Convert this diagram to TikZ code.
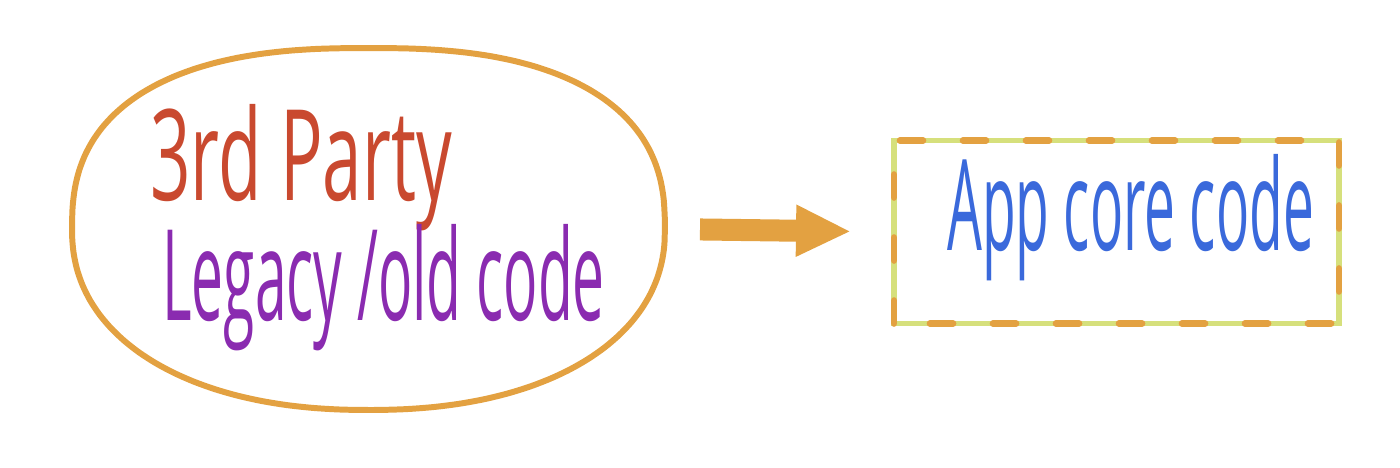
\documentclass[tikz,border=0pt]{standalone}
\usepackage{fontspec}
\setmainfont{Open Sans}
\usepackage{tikz}
\usetikzlibrary{positioning, arrows.meta}
\definecolor{marker}{HTML}{E3A141}
\definecolor{lime}{HTML}{D6E07C}
\definecolor{brick}{HTML}{C9492F}
\definecolor{plum}{HTML}{8A2BB0}
\definecolor{ink}{HTML}{3A69DB}
\tikzset{
    blobline/.style={draw=marker, line width=1.7pt},
    corebox/.style={draw=lime, line width=1.7pt, minimum width=4.45cm, minimum height=1.83cm, outer sep=0pt},
    coredash/.style={draw=marker, line width=1.9pt, dash pattern=on 0.23cm off 0.4cm, line cap=round},
    scrawl/.style={font=\fontsize{36}{40}\selectfont, inner sep=0pt, anchor=base west},
    fatarrow/.style={draw=marker, line width=0.22cm, -{Triangle[length=0.55cm, width=0.48cm]}},
}

\begin{document}
\begin{tikzpicture}[
    declare function={blobexp(\t)=(sin(\t)>0) ? -0.2 : -0.09;},
]
\useasboundingbox (0,0) rectangle (14,4.67);
% old code blob, a squarish egg
\draw[blobline, smooth] plot[domain=1:361, samples=73, variable=\t]
    ({3.685+2.965*cos(\t)*pow(abs(cos(\t)),blobexp(\t))},
     {2.38+1.81*sin(\t)*pow(abs(sin(\t)),blobexp(\t))}) -- cycle;
\coordinate (legacy) at (6.65,2.38);
\node[scrawl, text=brick, xscale=0.56] (party) at (1.50,2.67) {3rd Party};
\node[scrawl, text=plum, xscale=0.45] (oldcode) at (1.62,1.47) {Legacy /old code};
% core box
\node[corebox] (core) at (11.165,2.35) {};
\draw[coredash] (core.south west) rectangle (core.north east);
\node[scrawl, text=ink, xscale=0.435] (applabel) at (9.47,2.17) {App core code};
\draw[fatarrow, shorten <=0.35cm, shorten >=0.43cm] (legacy) -- (core.west);
\end{tikzpicture}
\end{document}
